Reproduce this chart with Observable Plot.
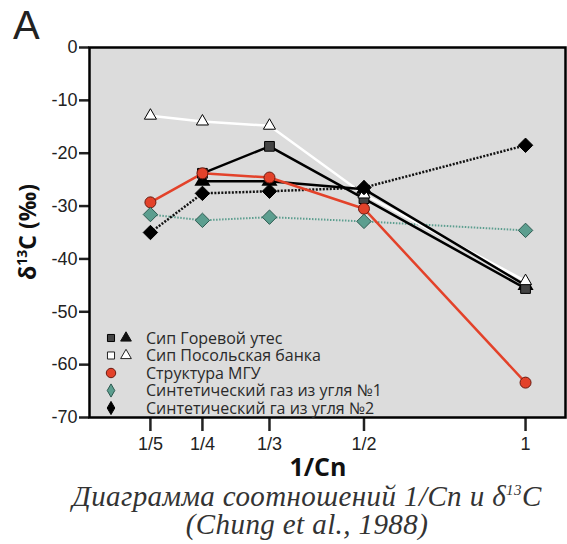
<!DOCTYPE html>
<html>
<head>
<meta charset="utf-8">
<script src="https://cdn.jsdelivr.net/npm/d3@7"></script>
<script src="https://cdn.jsdelivr.net/npm/@observablehq/plot@0.6"></script>
<style>
  html, body { margin: 0; padding: 0; background: #fff; }
  #wrap { position: relative; width: 567px; height: 544px; overflow: hidden; }
  #caption { position: absolute; left: 0; width: 614px; top: 482px; text-align: center;
    font-family: "Liberation Serif", "DejaVu Serif", serif; font-style: italic; font-size: 29px;
    letter-spacing: 0.4px; line-height: 28px; color: #333; }
  #caption sup { font-size: 15px; vertical-align: 11px; line-height: 0; }
</style>
</head>
<body>
<div id="wrap"></div>
<script>
// ---- data ----
const cn = [1/5, 1/4, 1/3, 1/2, 1];
const xTickLabels = ["1/5", "1/4", "1/3", "1/2", "1"];
const yTicks = [0, -10, -20, -30, -40, -50, -60, -70];

const goreSquares   = [null, -23.8, -18.7, -28.6, -45.6];
const goreTriangles = [null, -25.3, -25.3, -26.8, -45.0];
const posolTriangles = [-12.9, -14.0, -14.8, -27.8, -44.2];
const mgu    = [-29.3, -23.8, -24.6, -30.5, -63.4];
const synth1 = [-31.6, -32.7, -32.1, -32.9, -34.6];
const synth2 = [-35.0, -27.6, -27.2, -26.5, -18.5];

const legendLabels = [
  "Сип Горевой утес",
  "Сип Посольская банка",
  "Структура МГУ",
  "Синтетический газ из угля №1",
  "Синтетический га из угля №2"
];

const rows = s => cn.map((x, i) => ({x, y: s[i]})).filter(d => d.y != null);
const xLabel = d => xTickLabels[cn.findIndex(c => Math.abs(c - d) < 1e-6)];

const RED = "#e3422a", GREEN = "#5c9e8f";

const chart = Plot.plot({
  width: 567, height: 488,
  marginLeft: 89, marginRight: 2, marginTop: 47, marginBottom: 71,
  style: {fontFamily: "'Liberation Sans', Arial, sans-serif", background: "transparent", color: "#222", overflow: "visible"},
  x: {type: "log", domain: [0.154, 1.187]},
  y: {domain: [-70, 0]},
  marks: [
    Plot.frame({fill: "#dcdcdc"}),
    Plot.axisY({ticks: yTicks, tickFormat: d => String(d), tickSize: 10, tickPadding: 2,
      fontSize: 18, strokeWidth: 2.5, label: null}),
    Plot.axisX({ticks: cn, tickFormat: xLabel, tickSize: 14, tickPadding: 6,
      fontSize: 18, strokeWidth: 2.5, label: null}),
    Plot.line(rows(synth1), {x: "x", y: "y", stroke: GREEN, strokeWidth: 2, strokeDasharray: "1.5,1.5", strokeLinecap: "butt"}),
    Plot.line(rows(synth2), {x: "x", y: "y", stroke: "#111", strokeWidth: 2.5, strokeDasharray: "2,1.5", strokeLinecap: "butt"}),
    Plot.line(rows(posolTriangles), {x: "x", y: "y", stroke: "#fff", strokeWidth: 2.5}),
    Plot.line(rows(goreTriangles), {x: "x", y: "y", stroke: "#000", strokeWidth: 2.5}),
    Plot.line(rows(goreSquares), {x: "x", y: "y", stroke: "#000", strokeWidth: 2.5}),
    Plot.line(rows(mgu), {x: "x", y: "y", stroke: RED, strokeWidth: 2.5}),
    Plot.dot(rows(goreTriangles), {x: "x", y: "y", symbol: "triangle", r: 5, fill: "#000", stroke: "#000"}),
    Plot.dot(rows(goreSquares), {x: "x", y: "y", symbol: "square", r: 5.5, fill: "#444", stroke: "#000", strokeWidth: 1}),
    Plot.dot(rows(posolTriangles), {x: "x", y: "y", symbol: "triangle", r: 4.5, fill: "#fff", stroke: "#000", strokeWidth: 1}),
    Plot.dot(rows(mgu), {x: "x", y: "y", symbol: "circle", r: 5.5, fill: RED, stroke: "#6a1a10", strokeWidth: 1}),
    Plot.dot(rows(synth1), {x: "x", y: "y", symbol: "diamond2", r: 6.5, fill: GREEN, stroke: "#2c5a50", strokeWidth: 1}),
    Plot.dot(rows(synth2), {x: "x", y: "y", symbol: "diamond2", r: 6.5, fill: "#000", stroke: "#000", strokeWidth: 1}),
    Plot.frame({stroke: "#000", strokeWidth: 2.5})
  ]
});

document.getElementById("wrap").appendChild(chart);
const svg = d3.select(chart);

// Panel letter
svg.append("text").attr("x", 13).attr("y", 39).attr("text-anchor", "start")
  .attr("font-family", "'Liberation Sans', Arial, sans-serif").attr("font-size", 40).attr("fill", "#222")
  .text("A");

// Y label
const yl = svg.append("text").attr("transform", "translate(36,232) rotate(-90)")
  .attr("text-anchor", "middle").attr("font-family", "'Open Sans', Arial, sans-serif")
  .attr("font-weight", "bold").attr("font-size", 23).attr("fill", "#111");
yl.append("tspan").text("δ");
yl.append("tspan").attr("font-size", 14).attr("dy", -9).text("13");
yl.append("tspan").attr("dy", 9).text("C (‰)");

// X label
svg.append("text").attr("x", 318).attr("y", 476).attr("text-anchor", "middle")
  .attr("font-family", "'Open Sans', Arial, sans-serif").attr("font-weight", "bold")
  .attr("font-size", 25).attr("fill", "#111").text("1/Cn");

// Legend
const lg = svg.append("g").attr("font-family", "'Open Sans', Arial, sans-serif").attr("font-size", 16)
  .attr("fill", "#2a2a2a").attr("text-anchor", "start");
const legendSymbols = [
  [{t: d3.symbolSquare, fill: "#444", stroke: "#000"}, {t: d3.symbolTriangle, fill: "#111", stroke: "#111"}],
  [{t: d3.symbolSquare, fill: "#fff", stroke: "#222"}, {t: d3.symbolTriangle, fill: "#fff", stroke: "#222"}],
  [{t: d3.symbolCircle, fill: RED, stroke: "#6a1a10"}],
  [{t: d3.symbolDiamond, fill: GREEN, stroke: "#2c5a50"}],
  [{t: d3.symbolDiamond, fill: "#000", stroke: "#000"}]
];
legendLabels.forEach((lab, i) => {
  const y = 338 + i * 17.5;
  legendSymbols[i].forEach((s, j) => {
    lg.append("path").attr("transform", `translate(${111 + j * 15},${y})`)
      .attr("d", d3.symbol(s.t, s.t === d3.symbolCircle ? 70 : 50)())
      .attr("fill", s.fill).attr("stroke", s.stroke).attr("stroke-width", 1);
  });
  lg.append("text").attr("x", 146).attr("y", y).attr("dy", "0.35em").text(lab);
});

// Caption
const cap = document.createElement("div");
cap.id = "caption";
cap.innerHTML = "Диаграмма соотношений 1/Cn и δ<sup>13</sup>C<br>(Chung et al., 1988)";
document.getElementById("wrap").appendChild(cap);
</script>
</body>
</html>
